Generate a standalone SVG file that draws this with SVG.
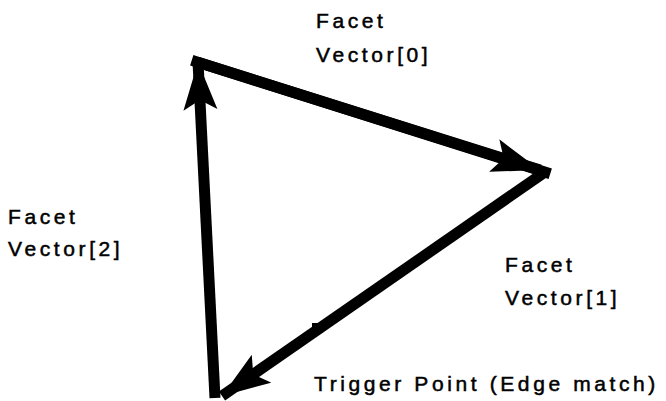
<svg xmlns="http://www.w3.org/2000/svg" width="666" height="401" viewBox="0 0 666 401">
<style>
.t{font-family:"Liberation Sans",Arial,sans-serif;font-size:21px;letter-spacing:3.6px;fill:#000;stroke:#000;stroke-width:0.5}
.e{stroke:#000;stroke-width:11;fill:none}
</style>
<defs>
<marker id="ah" markerUnits="userSpaceOnUse" markerWidth="52" markerHeight="36" refX="48" refY="17" orient="auto">
<path d="M0,0 L48,17 L0,34 L10,17 Z" fill="#000"/>
</marker>
</defs>
<rect width="666" height="401" fill="#fff"/>
<g id="connectors">
<line class="e" x1="197" y1="62" x2="545" y2="172" stroke-linecap="square"/>
<line class="e" x1="197" y1="62" x2="540" y2="170" marker-end="url(#ah)"/>
<line class="e" x1="545" y1="172" x2="222" y2="396" marker-end="url(#ah)"/>
<line class="e" x1="215" y1="398" x2="198" y2="62" marker-end="url(#ah)"/>
</g>
<g id="trigger"><rect x="312" y="323" width="11" height="10" fill="#000"/></g>
<g id="label0"><text class="t" x="316" y="28">Facet</text><text class="t" x="316" y="62">Vector[0]</text></g>
<g id="label1"><text class="t" x="505" y="272">Facet</text><text class="t" x="505" y="305">Vector[1]</text></g>
<g id="label2"><text class="t" x="8" y="224">Facet</text><text class="t" x="8" y="256">Vector[2]</text></g>
<g id="label3"><text class="t" x="314" y="391">Trigger Point (Edge match)</text></g>
</svg>
